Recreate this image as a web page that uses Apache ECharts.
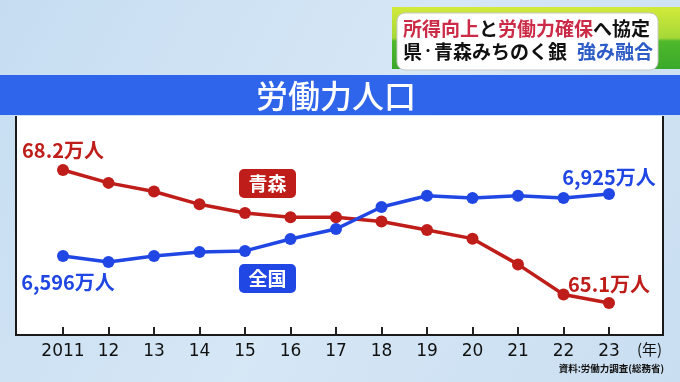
<!DOCTYPE html>
<html>
<head>
<meta charset="utf-8">
<script src="https://cdn.jsdelivr.net/npm/echarts@6/dist/echarts.min.js"></script>
<style>html,body{margin:0;padding:0;}#c{width:680px;height:382px;}</style>
</head>
<body>
<div id="c"></div>
<script>
var years = ['2011','12','13','14','15','16','17','18','19','20','21','22','23'];
var aomori = [68.2, 67.9, 67.7, 67.4, 67.2, 67.1, 67.1, 67.0, 66.8, 66.6, 66.0, 65.3, 65.1];
var zenkoku = [6596, 6564, 6596, 6617, 6623, 6686, 6739, 6856, 6916, 6904, 6916, 6904, 6925];
var seriesNames = ['青森', '全国'];
var titleText = '労働力人口';
var sourceText = '資料:労働力調査(総務省)';

var RED = '#bf1d19', BLUE = '#2047e4';
var FONT = '"Noto Sans CJK JP", "Noto Sans", sans-serif';

function fmtComma(v){ return String(v).replace(/\B(?=(\d{3})+(?!\d))/g, ','); }

function mkData(arr, color, firstLabel, lastLabel, fmt){
  return arr.map(function(v, i){
    var item = { value: v };
    var cfg = null;
    if (i === 0) cfg = firstLabel;
    if (i === arr.length - 1) cfg = lastLabel;
    if (cfg) {
      item.label = Object.assign({
        show: true, color: color, fontSize: 20, fontWeight: 'bold', fontFamily: FONT,
        formatter: function(p){ return fmt(p.value) + '万人'; }
      }, cfg);
    }
    return item;
  });
}

var chart = echarts.init(document.getElementById('c'), null, {renderer: 'canvas'});
chart.setOption({
  backgroundColor: {
    type: 'linear', x: 0, y: 0, x2: 1, y2: 1,
    colorStops: [{offset: 0, color: '#c6ddf1'}, {offset: 0.5, color: '#d6e7f6'}, {offset: 1, color: '#c9def1'}]
  },
  animation: false,
  grid: { left: 63, right: 71, top: 116, bottom: 47 },
  xAxis: {
    type: 'category', data: years, boundaryGap: false,
    axisLine: { show: false },
    axisTick: { show: true, inside: true, length: 8, alignWithLabel: true, lineStyle: { color: '#222', width: 2 } },
    axisLabel: { color: '#111', fontSize: 17, fontFamily: '"DejaVu Sans", sans-serif', margin: 8, interval: 0 },
    splitLine: { show: false }
  },
  yAxis: [
    { type: 'value', show: false, min: 64.354, max: 69.459, splitLine: { show: false } },
    { type: 'value', show: false, min: 6176.8, max: 7338.8, splitLine: { show: false } }
  ],
  series: [
    {
      name: seriesNames[0], type: 'line', yAxisIndex: 0, z: 3,
      data: mkData(aomori, RED,
        { position: 'top', distance: 4 },
        { position: 'top', distance: 3 },
        function(v){ return v.toFixed(1); }),
      symbol: 'circle', symbolSize: 12,
      lineStyle: { color: RED, width: 3.5 },
      itemStyle: { color: RED }
    },
    {
      name: seriesNames[1], type: 'line', yAxisIndex: 1, z: 4,
      data: mkData(zenkoku, BLUE,
        { position: 'bottom', distance: 10, offset: [5, 0] },
        { position: 'top', distance: 1 },
        fmtComma),
      symbol: 'circle', symbolSize: 12,
      lineStyle: { color: BLUE, width: 3.5 },
      itemStyle: { color: BLUE }
    }
  ],
  graphic: [
    { type: 'rect', z: -10, shape: { x: 392, y: 7, width: 288, height: 62 },
      style: { fill: { type: 'linear', x: 0, y: 0, x2: 0, y2: 1,
        colorStops: [{offset: 0, color: '#d2ea3a'}, {offset: 0.5, color: '#a6d838'}, {offset: 0.55, color: '#4fb82c'}, {offset: 1, color: '#3aa82a'}] } } },
    { type: 'rect', z: -9, shape: { x: 397, y: 13, width: 261, height: 57, r: 8 },
      style: { fill: '#ffffff', stroke: '#c8c8c8', lineWidth: 1 } },
    { type: 'text', z: -8, left: 403, top: 19,
      style: {
        text: '{r|所得向上}{k|と}{r|労働力確保}{k|へ協定}',
        rich: {
          r: { fill: '#cc2b47', fontSize: 19, fontWeight: 'bold', fontFamily: FONT },
          k: { fill: '#111', fontSize: 19, fontWeight: 'bold', fontFamily: FONT }
        }
      } },
    { type: 'text', z: -8, left: 403, top: 42,
      style: {
        text: '{k|県}{d|・}{k|青森みちのく銀}{s| }{b|強み融合}',
        rich: {
          k: { fill: '#111', fontSize: 19, fontWeight: 'bold', fontFamily: FONT },
          d: { fill: '#111', fontSize: 12, fontWeight: 'bold', fontFamily: FONT, height: 19 },
          s: { fontSize: 12, fontFamily: FONT, width: 10 },
          b: { fill: '#2d5cc6', fontSize: 19, fontWeight: 'bold', fontFamily: FONT }
        }
      } },
    { type: 'rect', z: -10, shape: { x: 0, y: 75, width: 680, height: 40 }, style: { fill: '#2f65ea' } },
    { type: 'text', z: -8, x: 336, y: 96,
      style: { text: titleText, fill: '#ffffff', fontSize: 32, fontWeight: 500, fontFamily: FONT, align: 'center', verticalAlign: 'middle' } },
    { type: 'rect', z: -10, shape: { x: 16, y: 116, width: 647, height: 219 }, style: { fill: '#ffffff' } },
    { type: 'polyline', z: -9, shape: { points: [[16, 116], [16, 335], [663, 335], [663, 116]] },
      style: { stroke: '#1a1a1a', lineWidth: 2, fill: null } },
    { type: 'rect', z: -7, shape: { x: 239, y: 169, width: 57, height: 29, r: 5 }, style: { fill: RED } },
    { type: 'text', z: -6, x: 267.5, y: 183.5,
      style: { text: seriesNames[0], fill: '#fff', fontSize: 19, fontWeight: 'bold', fontFamily: FONT, align: 'center', verticalAlign: 'middle' } },
    { type: 'rect', z: -7, shape: { x: 239, y: 264, width: 57, height: 29, r: 5 }, style: { fill: BLUE } },
    { type: 'text', z: -6, x: 267.5, y: 278.5,
      style: { text: seriesNames[1], fill: '#fff', fontSize: 19, fontWeight: 'bold', fontFamily: FONT, align: 'center', verticalAlign: 'middle' } },
    { type: 'text', z: -6, x: 637, y: 349,
      style: { text: '(年)', fill: '#111', fontSize: 15, fontFamily: FONT, align: 'left', verticalAlign: 'middle' } },
    { type: 'text', z: -6, x: 664, y: 368,
      style: { text: sourceText, fill: '#111', fontSize: 9.5, fontWeight: 'bold', fontFamily: FONT, align: 'right', verticalAlign: 'middle' } }
  ]
});
</script>
</body>
</html>
